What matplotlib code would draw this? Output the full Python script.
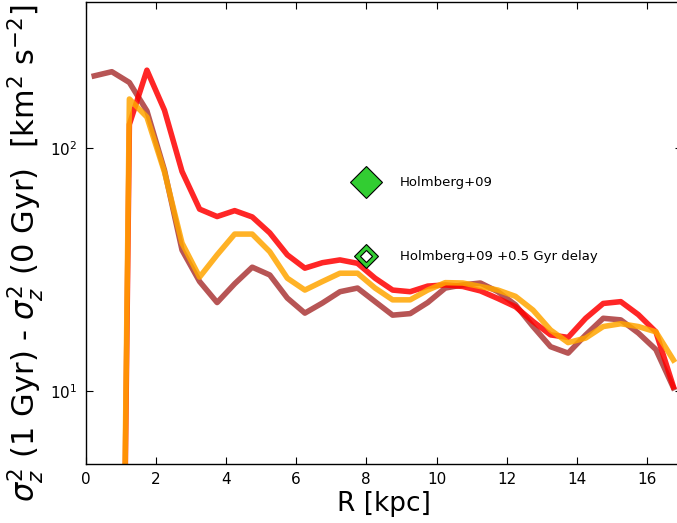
import numpy as np
import matplotlib
matplotlib.use("Agg")
import matplotlib.pyplot as plt

# Radial bins [kpc]
R = [0.25, 0.75, 1.25, 1.75, 2.25, 2.75, 3.25, 3.75, 4.25, 4.75, 5.25, 5.75,
     6.25, 6.75, 7.25, 7.75, 8.25, 8.75, 9.25, 9.75, 10.25, 10.75, 11.25,
     11.75, 12.25, 12.75, 13.25, 13.75, 14.25, 14.75, 15.25, 15.75, 16.25, 16.75]

# Heating sigma_z^2(1 Gyr) - sigma_z^2(0 Gyr) [km^2 s^-2]
heat_brown = [198, 206, 186, 142, 81, 38, 28.2, 23.1, 27.6, 32.3, 30.0, 24.1,
              20.9, 23.0, 25.6, 26.5, 23.3, 20.5, 20.8, 23.1, 26.5, 27.3, 27.8,
              25.6, 22.6, 18.4, 15.2, 14.3, 17.0, 19.9, 19.6, 17.3, 14.8, 10.3]
heat_red = [1e-4, 1e-4, 125, 209, 143, 80, 56, 52.2, 55.2, 52, 44.7, 36.3,
            32, 33.7, 34.6, 33.5, 29.1, 26, 25.6, 27, 27.3, 26.9, 25.8,
            24, 22.2, 19.3, 17.0, 16.6, 19.9, 22.9, 23.3, 20.6, 17.5, 10.4]
heat_orange = [1e-4, 1e-4, 159, 134, 79.6, 40.6, 29.4, 36.3, 44.2, 44.2, 37.4, 29.1,
               26, 28.2, 30.5, 30.5, 26.5, 23.7, 23.7, 26, 27.9, 27.8, 26.9,
               26, 24.5, 21.5, 17.8, 15.8, 16.5, 18.4, 18.9, 18.4, 17.5, 13.4]

# Observational estimates
obs_R = 8.0
holmberg = 72.4
holmberg_delay = 35.9

fig = plt.figure(figsize=(6.77, 5.23), dpi=100)
ax = fig.add_axes([85.5 / 677, 59 / 523, 596.7 / 677, 462.3 / 523])

ax.plot(R, heat_brown, color="brown", alpha=0.8, lw=4)
ax.plot(R, heat_red, color="red", alpha=0.85, lw=4)
ax.plot(R, heat_orange, color="orange", alpha=0.85, lw=4)

ax.plot([obs_R], [holmberg], marker="D", ms=16, color="limegreen",
        mec="black", mew=0.8, ls="none")
ax.plot([obs_R], [holmberg_delay], marker="D", ms=12.5, color="limegreen",
        mec="black", mew=0.8, ls="none")
ax.plot([obs_R], [holmberg_delay], marker="D", ms=6.5, color="white",
        mec="black", mew=0.8, ls="none")

ax.text(8.95, holmberg, "Holmberg+09", fontsize=9.5, va="center", ha="left")
ax.text(8.95, holmberg_delay, "Holmberg+09 +0.5 Gyr delay", fontsize=9.5,
        va="center", ha="left")

ax.set_yscale("log")
ax.set_xlim(0, 17)
ax.set_ylim(5, 400)
ax.set_xticks(np.arange(0, 17, 2))
ax.yaxis.set_minor_locator(matplotlib.ticker.NullLocator())
ax.tick_params(which="both", direction="in", top=True, right=True,
               length=5, width=0.8, labelsize=11, pad=6)

for s in ax.spines.values():
    s.set_linewidth(1.0)

ax.set_xlabel("R [kpc]", fontsize=19)
ax.xaxis.set_label_coords(0.5, -0.058)
ax.set_ylabel(r"$\sigma_z^2$ (1 Gyr) - $\sigma_z^2$ (0 Gyr)  [km$^2$ s$^{-2}$]",
              fontsize=22)
ax.yaxis.set_label_coords(-0.066, 0.455)

fig.savefig("out.png", dpi=100)
